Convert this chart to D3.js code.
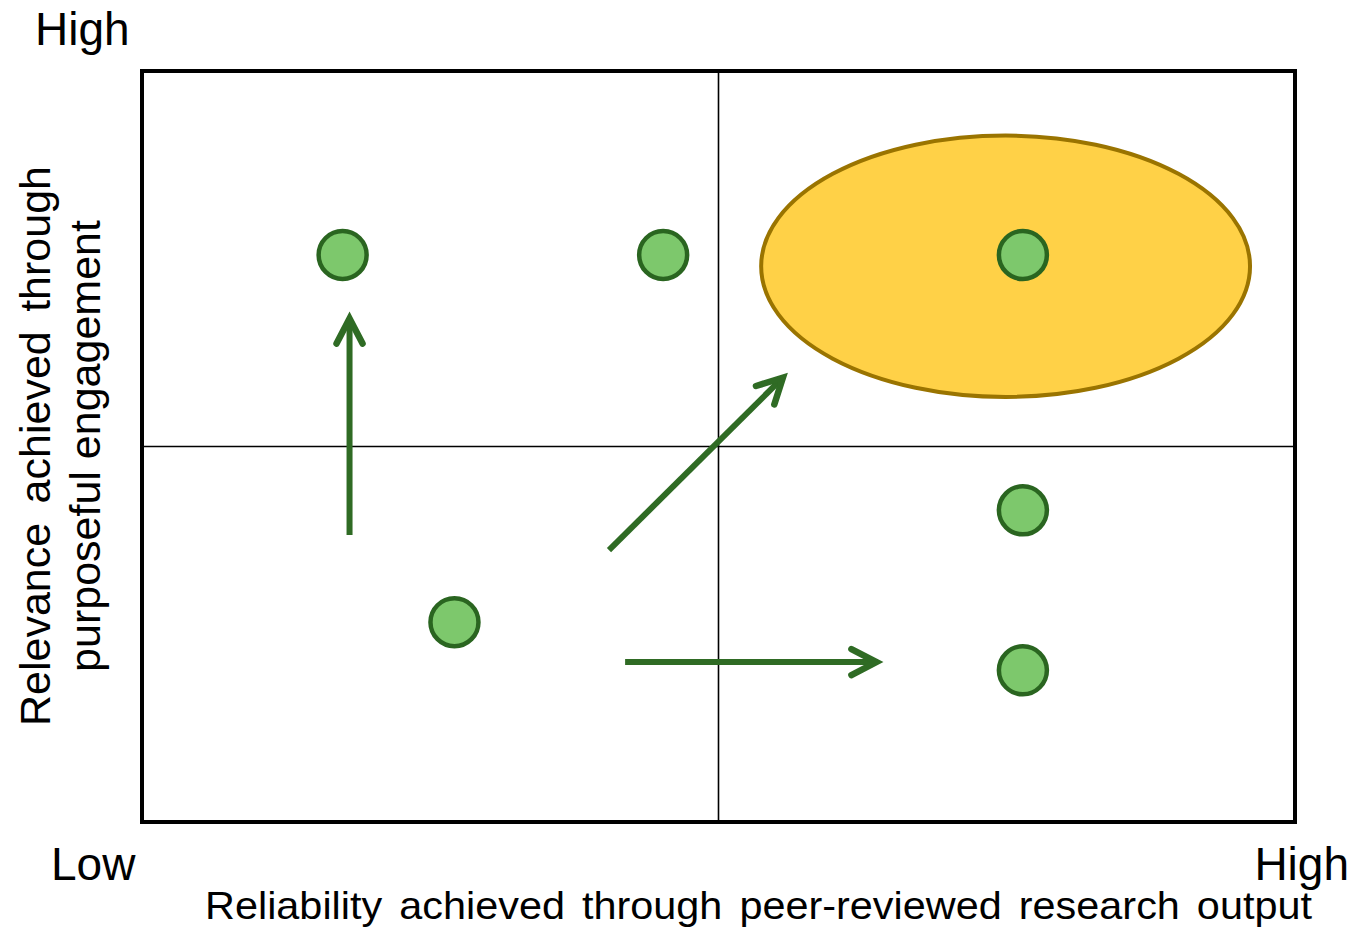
<!DOCTYPE html>
<html>
<head>
<meta charset="utf-8">
<script src="https://cdn.jsdelivr.net/npm/d3@7"></script>
<style>
  html, body { margin: 0; padding: 0; background: #fff; }
  svg { display: block; }
  text { font-family: "Liberation Sans", Arial, sans-serif; fill: #000; }
</style>
</head>
<body>
<svg id="chart" width="1357" height="932"></svg>
<script>
// ---- Data ----
const pointX = [0.174, 0.452, 0.764, 0.764, 0.271, 0.764];
const pointY = [0.755, 0.755, 0.755, 0.415, 0.266, 0.202];

const ellipseCenter = [0.749, 0.740];
const ellipseRadii = [0.212, 0.174];

const arrowFromX = [0.180, 0.405, 0.419];
const arrowFromY = [0.382, 0.362, 0.213];
const arrowToX   = [0.180, 0.558, 0.640];
const arrowToY   = [0.675, 0.595, 0.213];

const quadrantSplit = [0.5, 0.5];

const lowLabel = "Low";
const highLabel = "High";
const xTitle = "Reliability achieved through peer-reviewed research output";
const yTitleLines = ["Relevance achieved through", "purposeful engagement"];

// ---- Layout ----
(function () {
const svg = d3.select("#chart");
const plotLeft = 142, plotRight = 1295, plotTop = 71, plotBottom = 822;
const x = d3.scaleLinear().domain([0, 1]).range([plotLeft, plotRight]);
const y = d3.scaleLinear().domain([0, 1]).range([plotBottom, plotTop]);

const arrowColor = "#2F6B24";
const dotFill = "#7DC86C";
const dotStroke = "#2A6520";

// Quadrant lines
svg.append("line")
  .attr("x1", x(quadrantSplit[0])).attr("x2", x(quadrantSplit[0]))
  .attr("y1", y(0)).attr("y2", y(1))
  .attr("stroke", "#000").attr("stroke-width", 1.6);
svg.append("line")
  .attr("x1", x(0)).attr("x2", x(1))
  .attr("y1", y(quadrantSplit[1])).attr("y2", y(quadrantSplit[1]))
  .attr("stroke", "#000").attr("stroke-width", 1.6);

// Frame
svg.append("rect")
  .attr("x", x(0)).attr("y", y(1))
  .attr("width", x(1) - x(0)).attr("height", y(0) - y(1))
  .attr("fill", "none").attr("stroke", "#000").attr("stroke-width", 4);

// Ellipse
svg.append("ellipse")
  .attr("cx", x(ellipseCenter[0])).attr("cy", y(ellipseCenter[1]))
  .attr("rx", x(ellipseRadii[0]) - x(0)).attr("ry", y(0) - y(ellipseRadii[1]))
  .attr("fill", "#FFD147").attr("stroke", "#9A7400").attr("stroke-width", 4);

// Arrows
const arrows = arrowFromX.map((d, i) => ({
  x1: x(arrowFromX[i]), y1: y(arrowFromY[i]),
  x2: x(arrowToX[i]), y2: y(arrowToY[i])
}));
const headLen = 25, headHalf = 13;
arrows.forEach(a => {
  const dx = a.x2 - a.x1, dy = a.y2 - a.y1;
  const L = Math.hypot(dx, dy);
  const ux = dx / L, uy = dy / L;
  const px = -uy, py = ux;
  svg.append("line")
    .attr("x1", a.x1).attr("y1", a.y1)
    .attr("x2", a.x2 - ux * 4).attr("y2", a.y2 - uy * 4)
    .attr("stroke", arrowColor).attr("stroke-width", 6);
  const tipX = a.x2 - ux * 3.5, tipY = a.y2 - uy * 3.5;
  const bx = tipX - ux * headLen, by = tipY - uy * headLen;
  svg.append("path")
    .attr("d", `M${bx + px * headHalf},${by + py * headHalf} L${tipX},${tipY} L${bx - px * headHalf},${by - py * headHalf}`)
    .attr("fill", "none").attr("stroke", arrowColor).attr("stroke-width", 6.5)
    .attr("stroke-linecap", "round").attr("stroke-linejoin", "miter");
});

// Points
svg.selectAll("circle.pt")
  .data(pointX.map((d, i) => ({ x: d, y: pointY[i] })))
  .enter().append("circle")
  .attr("class", "pt")
  .attr("cx", d => x(d.x)).attr("cy", d => y(d.y))
  .attr("r", 24)
  .attr("fill", dotFill).attr("stroke", dotStroke).attr("stroke-width", 4.5);

// Corner labels
svg.append("text").attr("x", 35).attr("y", 45)
  .attr("font-size", 46).text(highLabel);
svg.append("text").attr("x", 51).attr("y", 880)
  .attr("font-size", 46).text(lowLabel);
svg.append("text").attr("x", 1349).attr("y", 880)
  .attr("text-anchor", "end").attr("font-size", 46).text(highLabel);

// Justify helper: set word-spacing so text spans target width
function justify(sel, target) {
  const txt = sel.text();
  const spaces = (txt.match(/ /g) || []).length;
  const w = sel.node().getComputedTextLength();
  if (spaces > 0 && w < target) {
    sel.attr("word-spacing", (target - w) / spaces);
  }
}

// X title (slightly widened glyphs as in the reference)
const xScaleX = 1.09;
const xt = svg.append("text")
  .attr("transform", `translate(205,919) scale(${xScaleX},1)`)
  .attr("font-size", 38).text(xTitle);
justify(xt, (1312 - 205) / xScaleX);

// Y title (rotated)
const yCenter = 446;
const yl1 = svg.append("text")
  .attr("transform", `translate(50,${yCenter}) rotate(-90)`)
  .attr("text-anchor", "middle").attr("font-size", 43).text(yTitleLines[0]);
justify(yl1, 725 - 165);
svg.append("text")
  .attr("transform", `translate(100,${yCenter}) rotate(-90)`)
  .attr("text-anchor", "middle").attr("font-size", 43).text(yTitleLines[1]);
})();
</script>
</body>
</html>
